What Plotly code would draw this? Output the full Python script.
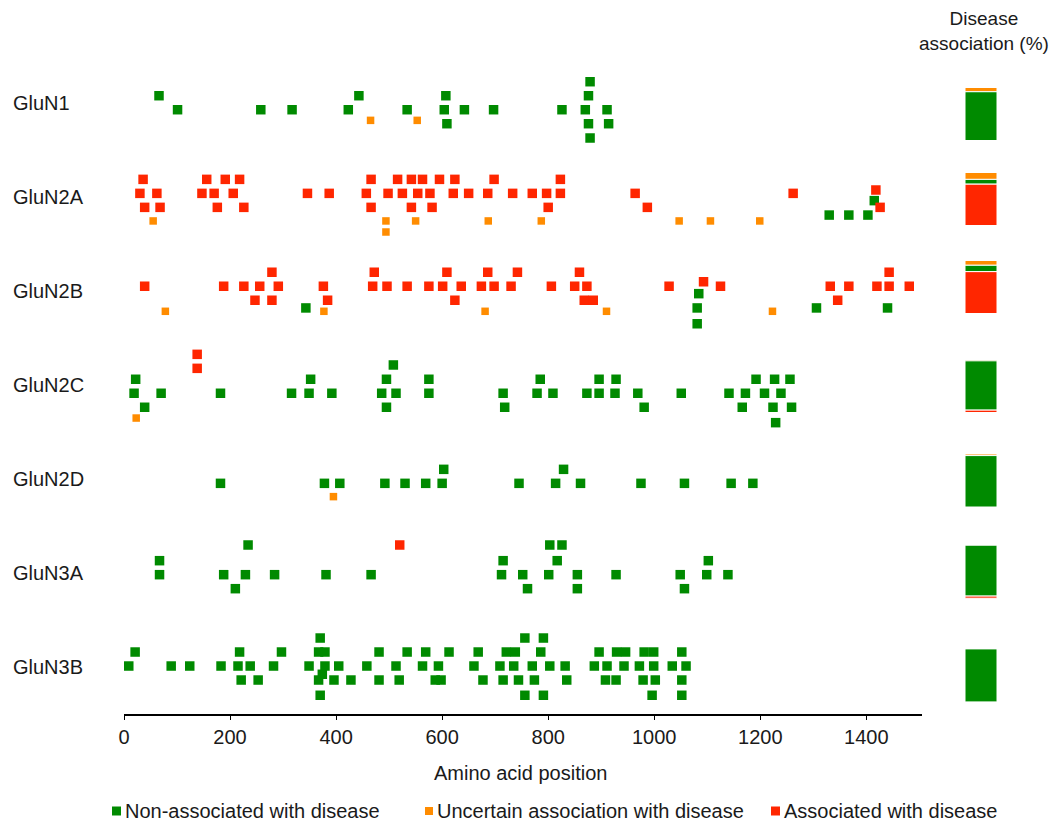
import plotly.graph_objects as go

# ---------------------------------------------------------------------------
# Data: variant positions (amino acid) and stack level within each subunit row
# ---------------------------------------------------------------------------
GENES = ["GluN1", "GluN2A", "GluN2B", "GluN2C", "GluN2D", "GluN3A", "GluN3B"]

# (position, stack level) for non-associated variants
NON_GLUN1 = [(66, -0.52), (101, 0.48), (258, 0.48), (317, 0.48), (443, -0.52), (423, 0.48),
             (534, 0.48), (607, -0.52), (604, 0.48), (609, 1.48), (642, 0.48), (697, 0.48),
             (826, 0.48), (879, -1.52), (876, -0.52), (870, 0.48), (911, 0.48), (876, 1.48),
             (914, 1.48), (879, 2.5)]
NON_GLUN2A = [(1415, 0.26), (1330, 1.29), (1367, 1.29), (1403, 1.29)]
NON_GLUN2B = [(343, 1.21), (1084, 0.19), (1081, 1.21), (1081, 2.34), (1306, 1.21), (1440, 1.21)]
NON_GLUN2C = [(22, -0.41), (19, 0.59), (39, 1.59), (70, 0.59), (182, 0.59), (316, 0.59),
              (352, -0.41), (349, 0.59), (392, 0.59), (508, -1.43), (495, -0.41), (486, 0.59),
              (513, 0.59), (495, 1.59), (575, -0.41), (575, 0.59), (715, 0.59), (718, 1.59),
              (785, -0.41), (779, 0.59), (809, 0.59), (896, -0.41), (928, -0.41), (873, 0.59),
              (896, 0.59), (926, 0.59), (969, 0.59), (981, 1.59), (1051, 0.59), (1192, -0.41),
              (1227, -0.41), (1256, -0.41), (1141, 0.59), (1172, 0.59), (1208, 0.59),
              (1239, 0.59), (1166, 1.59), (1224, 1.59), (1259, 1.59), (1229, 2.69)]
NON_GLUN2D = [(182, 0.31), (378, 0.31), (407, 0.31), (492, 0.31), (530, 0.31), (569, 0.31),
              (600, 0.31), (603, -0.69), (745, 0.31), (814, 0.31), (829, -0.69), (861, 0.31),
              (975, 0.31), (1057, 0.31), (1145, 0.31), (1186, 0.31)]
NON_GLUN3A = [(234, -2.0), (803, -2.0), (826, -2.0), (67, -0.88), (715, -0.88), (817, -0.88),
              (1102, -0.88), (67, 0.12), (188, 0.12), (229, 0.12), (284, 0.12), (381, 0.12),
              (466, 0.12), (712, 0.12), (752, 0.12), (801, 0.12), (855, 0.12), (928, 0.12),
              (1049, 0.12), (1099, 0.12), (1139, 0.12), (210, 1.12), (761, 1.12), (855, 1.12),
              (1057, 1.12)]
NON_GLUN3B = [(21, -1.07), (9, -0.07), (89, -0.07), (124, -0.07), (183, -0.07), (218, -1.07),
              (215, -0.07), (238, -0.07), (221, 0.93), (253, 0.93), (297, -1.07), (282, -0.07),
              (370, -2.07), (367, -1.07), (379, -1.07), (349, -0.07), (379, -0.07), (405, -0.07),
              (374, 0.52), (367, 0.93), (396, 0.93), (428, 0.93), (370, 2.02), (481, -1.07),
              (458, -0.07), (481, 0.93), (534, -1.07), (513, -0.07), (519, 0.93), (569, -1.07),
              (563, -0.07), (587, 0.93), (598, 0.93), (613, -1.07), (593, -0.07), (668, -1.07),
              (660, -0.07), (677, 0.93), (721, -1.07), (738, -1.07), (756, -2.07), (709, -0.07),
              (735, -0.07), (715, 0.93), (744, 0.93), (756, 2.02), (791, -2.07), (786, -1.07),
              (770, -0.07), (803, -0.07), (832, -0.07), (774, 0.93), (835, 0.93), (791, 2.02),
              (896, -1.07), (929, -1.07), (946, -1.07), (981, -1.07), (999, -1.07),
              (1052, -1.07), (887, -0.07), (911, -0.07), (943, -0.07), (972, -0.07),
              (999, -0.07), (1034, -0.07), (1060, -0.07), (908, 0.93), (928, 0.93),
              (979, 0.93), (1002, 0.93), (1052, 0.93), (996, 2.02), (1052, 2.02)]

# (position, stack level) for variants of uncertain association
UNC_GLUN1 = [(465, 1.24), (553, 1.24)]
UNC_GLUN2A = [(55, 1.71), (494, 1.71), (494, 2.5), (550, 1.71), (687, 1.71), (787, 1.71),
              (1047, 1.71), (1106, 1.71), (1199, 1.71)]
UNC_GLUN2B = [(78, 1.45), (377, 1.45), (681, 1.45), (910, 1.45), (1223, 1.45)]
UNC_GLUN2C = [(23, 2.36)]
UNC_GLUN2D = [(395, 1.26)]
UNC_GLUN3A = []
UNC_GLUN3B = []

# (position, stack level) for disease-associated variants
ASC_GLUN1 = []
ASC_GLUN2A = [(36, -1.26), (30, -0.26), (62, -0.26), (39, 0.74), (68, 0.74), (156, -1.26),
              (191, -1.26), (218, -1.26), (147, -0.26), (170, -0.26), (206, -0.26),
              (176, 0.74), (226, 0.74), (346, -0.26), (387, -0.26), (466, -1.26),
              (457, -0.26), (466, 0.74), (516, -1.26), (498, -0.26), (525, -0.26),
              (542, -1.26), (563, -1.26), (554, -0.26), (542, 0.74), (577, -0.26),
              (581, 0.74), (595, -1.26), (624, -1.26), (621, -0.26), (650, -0.26),
              (698, -1.26), (686, -0.26), (733, -0.26), (770, -0.26), (797, -0.26),
              (823, -1.26), (823, -0.26), (800, 0.74), (964, -0.26), (987, 0.74),
              (1262, -0.26), (1418, -0.5), (1426, 0.74)]
ASC_GLUN2B = [(39, -0.34), (188, -0.34), (226, -0.34), (279, -1.34), (256, -0.34),
              (291, -0.34), (247, 0.66), (279, 0.66), (376, -0.34), (384, 0.66),
              (472, -1.34), (469, -0.34), (496, -0.34), (534, -0.34), (575, -0.34),
              (609, -1.34), (601, -0.34), (636, -0.34), (624, 0.66), (686, -1.34),
              (674, -0.34), (698, -0.34), (730, -0.34), (742, -1.34), (859, -1.34),
              (806, -0.34), (850, -0.34), (873, -0.34), (868, 0.66), (885, 0.66),
              (1028, -0.34), (1093, -0.66), (1125, -0.34), (1332, -0.34), (1367, -0.34),
              (1346, 0.66), (1443, -1.34), (1420, -0.34), (1443, -0.34), (1481, -0.34)]
ASC_GLUN2C = [(138, -2.19), (138, -1.19)]
ASC_GLUN2D = []
ASC_GLUN3A = [(520, -2.0)]
ASC_GLUN3B = []

NON = [NON_GLUN1, NON_GLUN2A, NON_GLUN2B, NON_GLUN2C, NON_GLUN2D, NON_GLUN3A, NON_GLUN3B]
UNC = [UNC_GLUN1, UNC_GLUN2A, UNC_GLUN2B, UNC_GLUN2C, UNC_GLUN2D, UNC_GLUN3A, UNC_GLUN3B]
ASC = [ASC_GLUN1, ASC_GLUN2A, ASC_GLUN2B, ASC_GLUN2C, ASC_GLUN2D, ASC_GLUN3A, ASC_GLUN3B]

# Disease association share per subunit (%)
PCT_UNCERTAIN = [8, 13, 9, 2.5, 3, 0, 0]
PCT_NON = [92, 9, 12, 93, 97, 96, 100]
PCT_ASSOCIATED = [0, 78, 79, 4.5, 0, 4, 0]

X_TICKS = [0, 200, 400, 600, 800, 1000, 1200, 1400]

# ---------------------------------------------------------------------------
# Styling / layout constants
# ---------------------------------------------------------------------------
GREEN = "#008a00"
ORANGE = "#ff8c00"
RED = "#ff2600"
TEXT = "#1a1a1a"
FONT = "Liberation Sans, Arial, sans-serif"
FS = 20

W, H = 1056, 827
ML, MR, MT, MB = 124, 56, 0, 113
PLOT_W = W - ML - MR
PLOT_H = H - MT - MB
ROW_TOP, ROW_GAP, LEVEL_STEP = 103, 94, 14
BAR_SHIFT = [11, 2, -4, 1, 1.5, -1.3, 8.4]
BAR_FULL = 53  # height of a 100 % bar in y units


def row_y(i, level):
    return ROW_TOP + ROW_GAP * i + LEVEL_STEP * level


def px_x(px):
    return (px - ML) / PLOT_W


def px_y(py):
    return (H - MB - py) / PLOT_H


def collect(groups):
    xs, ys = [], []
    for i, pts in enumerate(groups):
        for pos, lvl in pts:
            xs.append(pos)
            ys.append(row_y(i, lvl))
    return xs, ys


fig = go.Figure()

for groups, color, size in [(NON, GREEN, 9.5), (ASC, RED, 9.5), (UNC, ORANGE, 7.5)]:
    xs, ys = collect(groups)
    fig.add_trace(go.Scatter(
        x=xs, y=ys, mode="markers", showlegend=False, hoverinfo="x",
        marker=dict(symbol="square", size=size, color=color, line=dict(width=0)),
        xaxis="x", yaxis="y"))

# Stacked disease-association bars (uncertain on top, then non, then associated)
for i, g in enumerate(GENES):
    top = ROW_TOP + ROW_GAP * i + BAR_SHIFT[i] - BAR_FULL / 2
    base = top
    for pct, color in [(PCT_UNCERTAIN[i], ORANGE), (PCT_NON[i], GREEN), (PCT_ASSOCIATED[i], RED)]:
        if pct <= 0:
            continue
        h = pct / 100 * BAR_FULL
        fig.add_trace(go.Bar(
            x=[0], y=[h], base=[base], width=1, showlegend=False, hoverinfo="skip",
            marker=dict(color=color, line=dict(color="white", width=1)),
            xaxis="x2", yaxis="y"))
        base += h

annotations = []
for i, g in enumerate(GENES):
    annotations.append(dict(
        x=px_x(11), y=ROW_TOP + ROW_GAP * i, xref="paper", yref="y", text=g,
        showarrow=False, xanchor="left", yanchor="middle",
        font=dict(family=FONT, size=FS, color=TEXT)))

annotations.append(dict(
    x=px_x(520), y=px_y(773), xref="paper", yref="paper", text="Amino acid position",
    showarrow=False, xanchor="center", yanchor="middle",
    font=dict(family=FONT, size=FS, color=TEXT)))

annotations.append(dict(
    x=px_x(984), y=px_y(31), xref="paper", yref="paper",
    text="Disease<br>association (%)", showarrow=False, xanchor="center", yanchor="middle",
    align="center", font=dict(family=FONT, size=FS - 1, color=TEXT)))

# Legend drawn as coloured squares with labels
legend_items = [
    (112, 121, GREEN, "Non-associated with disease"),
    (425, 433, ORANGE, "Uncertain association with disease"),
    (771, 780, RED, "Associated with disease"),
]
shapes = []
for x0, x1, color, label in legend_items:
    side = x1 - x0
    shapes.append(dict(
        type="rect", xref="paper", yref="paper",
        x0=px_x(x0), x1=px_x(x1), y0=px_y(811 + side / 2), y1=px_y(811 - side / 2),
        fillcolor=color, line=dict(width=0)))
    annotations.append(dict(
        x=px_x(x1 + 2), y=px_y(811), xref="paper", yref="paper", text=label,
        showarrow=False, xanchor="left", yanchor="middle",
        font=dict(family=FONT, size=FS, color=TEXT)))

fig.update_layout(
    width=W, height=H,
    margin=dict(l=ML, r=MR, t=MT, b=MB, pad=0),
    paper_bgcolor="white", plot_bgcolor="white",
    barmode="overlay",
    xaxis=dict(
        domain=[0, (922 - ML) / PLOT_W], range=[0, 1505], anchor="y",
        tickvals=X_TICKS, ticktext=[str(t) for t in X_TICKS],
        showgrid=False, zeroline=False, showline=True, linecolor="black", linewidth=2,
        ticks="outside", ticklen=4, tickcolor="black", tickwidth=1,
        tickfont=dict(family=FONT, size=FS, color=TEXT)),
    xaxis2=dict(
        domain=[(965 - ML) / PLOT_W, (997 - ML) / PLOT_W], range=[-0.5, 0.5], anchor="y",
        showgrid=False, zeroline=False, showline=False, showticklabels=False, ticks=""),
    yaxis=dict(
        range=[H - MB, 0], showgrid=False, zeroline=False, showline=False,
        showticklabels=False, ticks=""),
    annotations=annotations,
    shapes=shapes,
)

fig.write_html("out.html")
